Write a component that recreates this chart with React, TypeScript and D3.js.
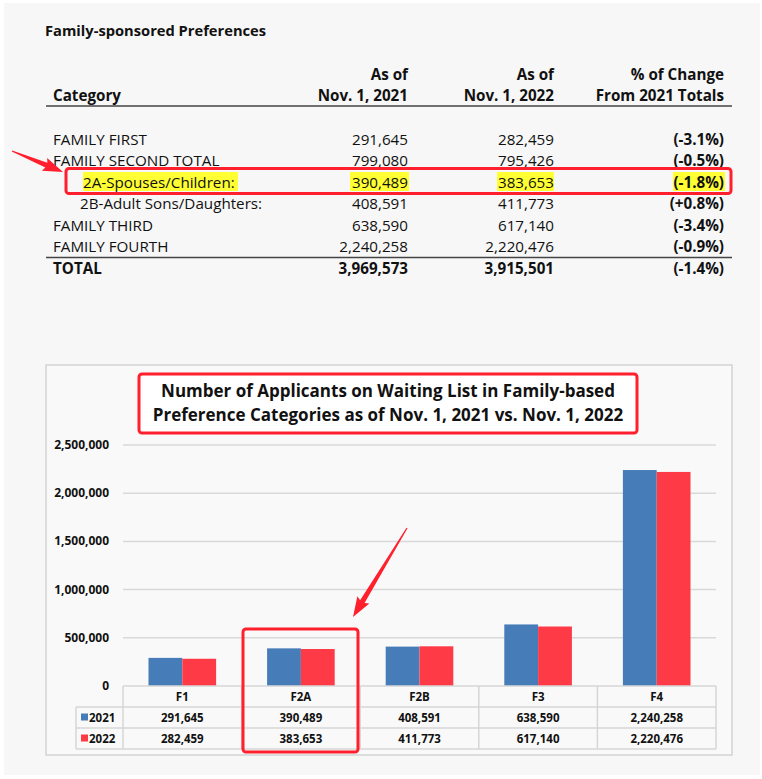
import React from "react";
import * as d3 from "d3";

const tableTitle = "Family-sponsored Preferences";
const rowLabels = ["FAMILY FIRST", "FAMILY SECOND TOTAL", "2A-Spouses/Children:", "2B-Adult Sons/Daughters:", "FAMILY THIRD", "FAMILY FOURTH", "TOTAL"];
const rowIndented = [false, false, true, true, false, false, false];
const values2021 = [291645, 799080, 390489, 408591, 638590, 2240258, 3969573];
const values2022 = [282459, 795426, 383653, 411773, 617140, 2220476, 3915501];
const pctChange = ["(-3.1%)", "(-0.5%)", "(-1.8%)", "(+0.8%)", "(-3.4%)", "(-0.9%)", "(-1.4%)"];

const categories = ["F1", "F2A", "F2B", "F3", "F4"];
const seriesNames = ["2021", "2022"];
const series2021 = [291645, 390489, 408591, 638590, 2240258];
const series2022 = [282459, 383653, 411773, 617140, 2220476];
const yTicks = [0, 500000, 1000000, 1500000, 2000000, 2500000];
const chartTitle = ["Number of Applicants on Waiting List in Family-based", "Preference Categories as of Nov. 1, 2021 vs. Nov. 1, 2022"];

const BLUE = "#467CB7";
const RED = "#FF3A47";
const HL = "#FF1F2D";
const FONT = "'Open Sans', 'Liberation Sans', Arial, sans-serif";

function Arrow({ x1, y1, x2, y2 }: { x1: number; y1: number; x2: number; y2: number }) {
  const dx = x2 - x1, dy = y2 - y1;
  const len = Math.hypot(dx, dy);
  const ux = dx / len, uy = dy / len;
  const px = -uy, py = ux;
  const headLen = 18, headW = 7, neckW = 2.6, tailW = 0.6;
  const bx = x2 - ux * headLen, by = y2 - uy * headLen;
  const pts = [
    [x1 + px * tailW, y1 + py * tailW],
    [bx + px * neckW, by + py * neckW],
    [bx + px * headW - ux * 2, by + py * headW - uy * 2],
    [x2, y2],
    [bx - px * headW - ux * 2, by - py * headW - uy * 2],
    [bx - px * neckW, by - py * neckW],
    [x1 - px * tailW, y1 - py * tailW],
  ];
  return <polygon points={pts.map((p) => p.join(",")).join(" ")} fill={HL} />;
}

export default function App() {
  const fmt = d3.format(",");
  const rowY = d3.scaleLinear().domain([0, 6]).range([144.5, 274]);
  const colRight = [408, 554, 724];

  // chart
  const plotLeft = 123, plotRight = 716;
  const y = d3.scaleLinear().domain([0, 2500000]).range([686, 445]);
  const x = d3.scaleBand<string>().domain(categories).range([plotLeft, plotRight]);
  const bw = x.bandwidth();
  const groupW = bw * 0.57;
  const data = [series2021, series2022];
  const colors = [BLUE, RED];
  const rowTop = [686, 707, 728, 749];
  const legendLeft = 76;

  return (
    <svg width={762} height={779} style={{ position: "absolute", left: 0, top: 0 }} fontFamily={FONT}>
      <rect x={0} y={0} width={762} height={779} fill="#ffffff" />
      <rect x={4} y={3} width={756} height={772} fill="#F7F7F7" />

      {/* Table */}
      <text x={45} y={36} fontSize={14.7} fontWeight="bold" fill="#111">{tableTitle}</text>
      <text x={53} y={101} fontSize={15.2} fontWeight="bold" fill="#111">Category</text>
      {[["As of", "Nov. 1, 2021"], ["As of", "Nov. 1, 2022"], ["% of Change", "From 2021 Totals"]].map((h, i) => (
        <g key={i} fontSize={15.2} fontWeight="bold" fill="#111" textAnchor="end">
          <text x={colRight[i]} y={80}>{h[0]}</text>
          <text x={colRight[i]} y={101}>{h[1]}</text>
        </g>
      ))}
      <line x1={46} x2={732} y1={106} y2={106} stroke="#444" strokeWidth={1.3} />
      <line x1={46} x2={732} y1={257.5} y2={257.5} stroke="#444" strokeWidth={1.3} />

      {/* highlight for 2A row */}
      <rect x={83} y={172} width={155} height={19} fill="#FFFF33" />
      <rect x={350} y={172} width={59} height={19} fill="#FFFF33" />
      <rect x={497} y={172} width={57} height={19} fill="#FFFF33" />
      <rect x={673} y={172} width={52} height={19} fill="#FFFF33" />

      {rowLabels.map((lab, i) => {
        const bold = i === rowLabels.length - 1;
        const yy = rowY(i);
        return (
          <g key={lab} fontSize={15.2} fill="#111" fontWeight={bold ? "bold" : "normal"}>
            <text x={rowIndented[i] ? (i === 2 ? 83 : 80) : 53} y={yy}>{lab}</text>
            <text x={colRight[0]} y={yy} textAnchor="end">{fmt(values2021[i])}</text>
            <text x={colRight[1]} y={yy} textAnchor="end">{fmt(values2022[i])}</text>
            <text x={colRight[2]} y={yy} textAnchor="end" fontWeight="bold">{pctChange[i]}</text>
          </g>
        );
      })}
      <rect x={66} y={168.5} width={665} height={25} rx={3} fill="none" stroke={HL} strokeWidth={3} />
      <Arrow x1={12} y1={151} x2={63} y2={172} />

      {/* Chart frame */}
      <rect x={46} y={365} width={686} height={390} fill="#F9F9F9" stroke="#D3D3D3" strokeWidth={1.5} />

      {/* title */}
      <rect x={139} y={374} width={498} height={59} rx={3} fill="#ffffff" stroke={HL} strokeWidth={3} />
      {chartTitle.map((t, i) => (
        <text key={i} x={388} y={397 + i * 24} textAnchor="middle" fontSize={17} fontWeight="bold" fill="#111">{t}</text>
      ))}

      {/* gridlines & ticks */}
      {yTicks.map((t) => (
        <g key={t}>
          {t > 0 && <line x1={plotLeft} x2={plotRight} y1={y(t)} y2={y(t)} stroke="#D9D9D9" strokeWidth={1.5} />}
          <text x={109} y={y(t) + 4} textAnchor="end" fontSize={12} fontWeight="bold" fill="#111">{fmt(t)}</text>
        </g>
      ))}

      {/* bars */}
      {categories.map((c, ci) => {
        const cx = (x(c) as number) + bw / 2;
        const x1 = d3.scaleBand<string>().domain(seriesNames).range([cx - groupW / 2, cx + groupW / 2]);
        return (
          <g key={c}>
            {seriesNames.map((s, si) => (
              <rect key={s} x={x1(s) as number} y={y(data[si][ci])} width={x1.bandwidth()} height={y(0) - y(data[si][ci])} fill={colors[si]} />
            ))}
          </g>
        );
      })}

      {/* data table */}
      <g stroke="#D6D6D6" strokeWidth={1.5} fill="none">
        <line x1={plotLeft} x2={plotRight} y1={rowTop[0]} y2={rowTop[0]} />
        {rowTop.slice(1).map((r) => (
          <line key={r} x1={legendLeft} x2={plotRight} y1={r} y2={r} />
        ))}
        <line x1={legendLeft} x2={legendLeft} y1={rowTop[1]} y2={rowTop[3]} />
        {categories.map((c) => (
          <line key={c} x1={x(c) as number} x2={x(c) as number} y1={rowTop[0]} y2={rowTop[3]} />
        ))}
        <line x1={plotRight} x2={plotRight} y1={rowTop[0]} y2={rowTop[3]} />
      </g>
      {categories.map((c, ci) => {
        const cx = (x(c) as number) + bw / 2;
        return (
          <g key={c} fontSize={11.5} fontWeight="bold" fill="#111" textAnchor="middle">
            <text x={cx} y={rowTop[0] + 15}>{c}</text>
            <text x={cx} y={rowTop[1] + 15}>{fmt(series2021[ci])}</text>
            <text x={cx} y={rowTop[2] + 15}>{fmt(series2022[ci])}</text>
          </g>
        );
      })}
      {seriesNames.map((s, si) => (
        <g key={s}>
          <rect x={81} y={rowTop[si + 1] + 6.5} width={7} height={7} fill={colors[si]} />
          <text x={89} y={rowTop[si + 1] + 15} fontSize={11.5} fontWeight="bold" fill="#111">{s}</text>
        </g>
      ))}

      {/* F2A highlight */}
      <rect x={243} y={629} width={115} height={123} rx={3} fill="none" stroke={HL} strokeWidth={3} />
      <Arrow x1={407} y1={528} x2={353} y2={617} />
    </svg>
  );
}
